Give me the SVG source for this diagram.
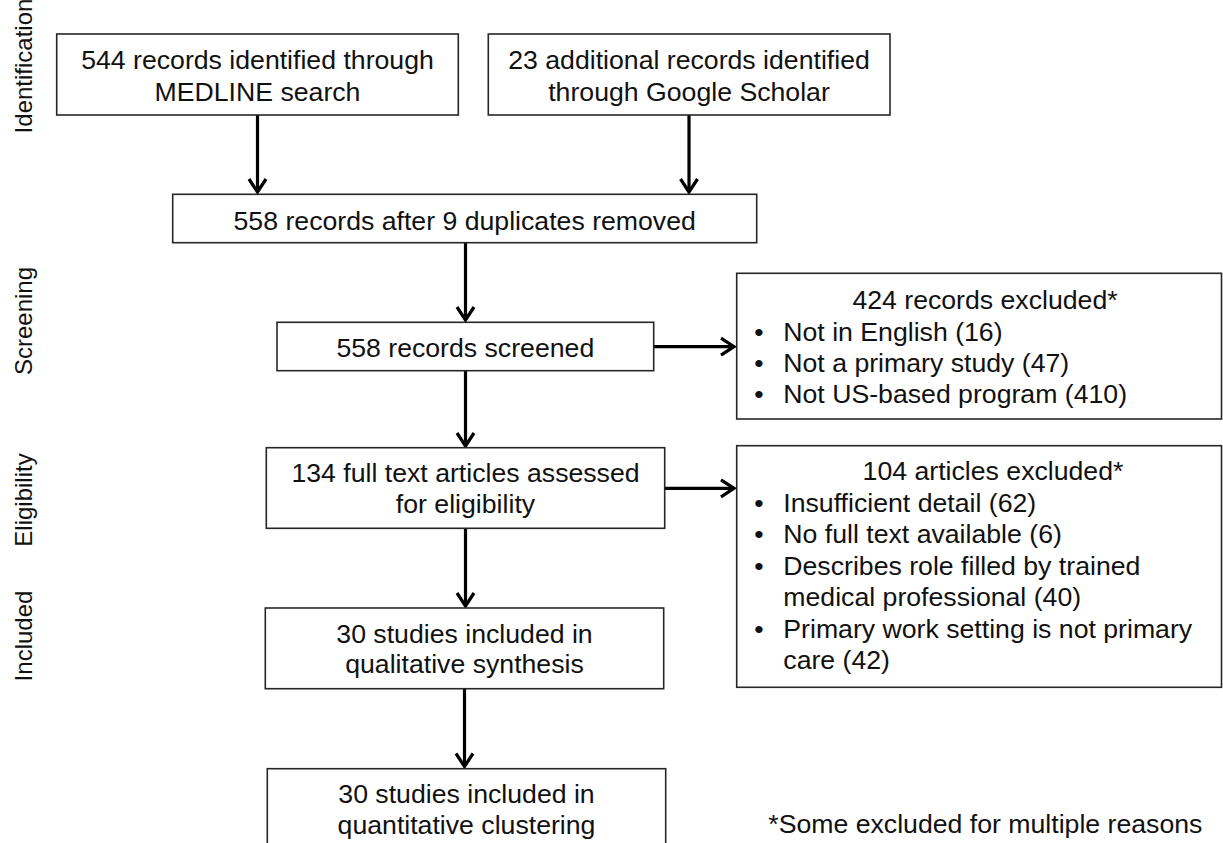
<svg xmlns="http://www.w3.org/2000/svg" width="1223" height="843" viewBox="0 0 1223 843">
<style>
.box{fill:#fff;stroke:#262626;stroke-width:1.6}
.t{font-family:"Liberation Sans",Arial,sans-serif;font-size:26.67px;fill:#111}
.c{text-anchor:middle}
.side{font-family:"Liberation Sans",Arial,sans-serif;font-size:24px;fill:#111;text-anchor:middle}
.con{stroke:#000;stroke-width:3.2;fill:none}
</style>
<defs>
<marker id="ah" markerUnits="userSpaceOnUse" markerWidth="30" markerHeight="30" viewBox="-20 -15 30 30" refX="0" refY="0" orient="auto">
<path d="M-13,-8.5 L0,0 L-13,8.5" fill="none" stroke="#000" stroke-width="3.2" stroke-linejoin="miter"/>
</marker>
</defs>
<rect width="1223" height="843" fill="#fff"/>
<g id="labels">
<text class="side" transform="translate(32,66) rotate(-90)">Identification</text>
<text class="side" transform="translate(32,321) rotate(-90)">Screening</text>
<text class="side" transform="translate(32,500) rotate(-90)">Eligibility</text>
<text class="side" transform="translate(32,636) rotate(-90)">Included</text>
</g>
<g id="connectors">
<line class="con" x1="257.5" y1="115" x2="257.5" y2="192" marker-end="url(#ah)"/>
<line class="con" x1="689" y1="115" x2="689" y2="192" marker-end="url(#ah)"/>
<line class="con" x1="465.5" y1="242.7" x2="465.5" y2="320" marker-end="url(#ah)"/>
<line class="con" x1="465.5" y1="370.7" x2="465.5" y2="446" marker-end="url(#ah)"/>
<line class="con" x1="465.5" y1="528.3" x2="465.5" y2="606" marker-end="url(#ah)"/>
<line class="con" x1="464.5" y1="688.7" x2="464.5" y2="766.5" marker-end="url(#ah)"/>
<line class="con" x1="653.7" y1="346.7" x2="734" y2="346.7" marker-end="url(#ah)"/>
<line class="con" x1="664.7" y1="488.3" x2="734" y2="488.3" marker-end="url(#ah)"/>
</g>
<g id="n1">
<rect class="box" x="56.7" y="34" width="401.6" height="81"/>
<text class="t c" x="257.5" y="69.3">544 records identified through</text>
<text class="t c" x="257.5" y="100.5">MEDLINE search</text>
</g>
<g id="n2">
<rect class="box" x="488.3" y="34" width="401.7" height="81"/>
<text class="t c" x="689" y="69.3">23 additional records identified</text>
<text class="t c" x="689" y="100.5">through Google Scholar</text>
</g>
<g id="n3">
<rect class="box" x="172.7" y="194.3" width="584" height="48.4"/>
<text class="t c" x="464.7" y="230">558 records after 9 duplicates removed</text>
</g>
<g id="n4">
<rect class="box" x="277" y="322.3" width="376.7" height="48.4"/>
<text class="t c" x="465.3" y="357.3">558 records screened</text>
</g>
<g id="n5">
<rect class="box" x="266.3" y="447.7" width="398.4" height="80.6"/>
<text class="t c" x="465.5" y="482.3">134 full text articles assessed</text>
<text class="t c" x="465.5" y="513.3">for eligibility</text>
</g>
<g id="n6">
<rect class="box" x="265.3" y="608" width="398.4" height="80.7"/>
<text class="t c" x="464.5" y="642.7">30 studies included in</text>
<text class="t c" x="464.5" y="673.3">qualitative synthesis</text>
</g>
<g id="n7">
<rect class="box" x="267.3" y="768.7" width="398.4" height="90"/>
<text class="t c" x="466.5" y="803.3">30 studies included in</text>
<text class="t c" x="466.5" y="833.5">quantitative clustering</text>
</g>
<g id="n8">
<rect class="box" x="736.7" y="273.3" width="484.8" height="145.7"/>
<text class="t c" x="985" y="309.3">424 records excluded*</text>
<text class="t c" x="759" y="340.5">•</text><text class="t" x="783.3" y="340.5">Not in English (16)</text>
<text class="t c" x="759" y="371.5">•</text><text class="t" x="783.3" y="371.5">Not a primary study (47)</text>
<text class="t c" x="759" y="402.5">•</text><text class="t" x="783.3" y="402.5">Not US-based program (410)</text>
</g>
<g id="n9">
<rect class="box" x="736.7" y="445.7" width="484.8" height="241.6"/>
<text class="t c" x="993" y="480">104 articles excluded*</text>
<text class="t c" x="759" y="511.5">•</text><text class="t" x="783.3" y="511.5">Insufficient detail (62)</text>
<text class="t c" x="759" y="543">•</text><text class="t" x="783.3" y="543">No full text available (6)</text>
<text class="t c" x="759" y="574.5">•</text><text class="t" x="783.3" y="574.5">Describes role filled by trained</text>
<text class="t" x="783.3" y="606">medical professional (40)</text>
<text class="t c" x="759" y="637.5">•</text><text class="t" x="783.3" y="637.5">Primary work setting is not primary</text>
<text class="t" x="783.3" y="669">care (42)</text>
</g>
<g id="note">
<text class="t" x="768.3" y="833.3">*Some excluded for multiple reasons</text>
</g>
</svg>
